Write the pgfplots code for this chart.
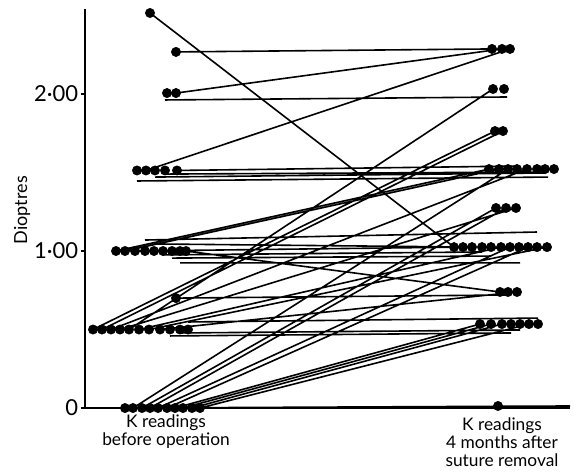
\documentclass[border=0pt]{standalone}
\usepackage{pgfplots}
\pgfplotsset{compat=1.18}
\usepackage{pgfplotstable}
\usepackage{fontspec}
\setmainfont{Lato}

\pgfplotstableread{
x y
150 2.516
176 2.268
167 2.006
176 2.006
137 1.513
146 1.513
155 1.513
165 1.513
177 1.513
116 1.0
125 1.0
135 1.0
145 1.0
154 1.0
163 1.0
172 1.0
180 1.0
186 1.0
176 0.70
93 0.50
102 0.50
111 0.50
120 0.50
129 0.50
139 0.50
149 0.50
160 0.50
170 0.50
180 0.50
188 0.50
125 0
133 0
142 0
150 0
158 0
167 0
175 0
183 0
192 0
200 0
}\leftdots

\pgfplotstableread{
x y
492 2.287
502 2.287
510 2.287
493 2.032
504 2.032
495 1.764
503 1.764
489 1.522
499 1.522
508 1.522
517 1.522
527 1.522
537 1.522
545 1.522
554 1.522
496 1.274
506 1.274
516 1.274
454 1.025
463 1.025
472 1.025
482 1.025
491 1.025
501 1.025
510 1.025
519 1.025
528 1.025
537 1.025
547 1.025
500 0.739
508 0.739
517 0.739
480 0.535
491 0.535
502 0.535
511 0.535
520 0.535
529 0.535
538 0.535
498 0.013
}\rightdots

\pgfplotstableread{
x y
150 2.516
454 1.025
nan nan
176 2.268
492 2.287
nan nan
176 2.006
502 2.287
nan nan
146 1.513
510 2.287
nan nan
165 1.962
507 1.981
nan nan
129 0.50
493 2.032
nan nan
93 0.50
495 1.764
nan nan
102 0.50
503 1.764
nan nan
137 1.446
548 1.471
nan nan
155 1.471
545 1.497
nan nan
165 1.490
537 1.503
nan nan
177 1.513
517 1.541
nan nan
116 1.0
489 1.522
nan nan
125 1.0
499 1.522
nan nan
133 0
508 1.522
nan nan
111 0.50
527 1.522
nan nan
142 0
496 1.274
nan nan
150 0
506 1.274
nan nan
120 0.50
516 1.274
nan nan
135 1.0
463 1.025
nan nan
145 1.070
537 1.121
nan nan
154 1.045
472 1.025
nan nan
163 0.975
482 0.994
nan nan
172 0.955
491 0.968
nan nan
180 0.924
520 0.924
nan nan
158 0
510 1.025
nan nan
167 0
528 1.025
nan nan
139 0.50
501 1.025
nan nan
149 0.50
547 1.025
nan nan
186 1.0
500 0.739
nan nan
176 0.70
508 0.72
nan nan
160 0.50
517 0.739
nan nan
170 0.459
511 0.478
nan nan
180 0.478
520 0.497
nan nan
188 0.548
538 0.573
nan nan
175 0
480 0.535
nan nan
183 0
491 0.535
nan nan
192 0
502 0.535
nan nan
200 0
529 0.535
nan nan
125 0
570 0.013
}\pairlines

\begin{document}
\begin{tikzpicture}
\begin{axis}[
  scale only axis,
  width=363.75pt, height=299.1pt,
  xmin=85, xmax=570, ymin=0, ymax=2.54,
  axis x line=bottom, axis y line=left,
  axis line style={-, line width=1.3pt, black},
  xtick=\empty,
  ytick={0,1,2}, yticklabels={0,1·00,2·00},
  tick align=outside, major tick length=3pt,
  tick style={line width=1.3pt, black},
  yticklabel style={font=\fontsize{16.5}{18}\selectfont, inner sep=2pt},
  clip=false,
]
\addplot[black, line width=1.2pt, unbounded coords=jump, mark=none] table {\pairlines};
\addplot[only marks, mark=*, mark size=3.5pt, black] table {\leftdots};
\addplot[only marks, mark=*, mark size=3.5pt, black] table {\rightdots};
\node[rotate=90, font=\fontsize{13.5}{15}\selectfont] at (axis cs:22,1.26) {Dioptres};
\node[align=center, font=\fontsize{13}{13.5}\selectfont] at (axis cs:166,-0.15) {K readings\\before operation};
\node[align=center, font=\fontsize{13}{13.5}\selectfont] at (axis cs:502,-0.215) {K readings\\4 months after\\suture removal};
\coordinate (bbsw) at (axis cs:0,-0.4013);
\coordinate (bbne) at (axis cs:573,2.5987);
\end{axis}
\pgfresetboundingbox
\path (bbsw) rectangle (bbne);
\end{tikzpicture}
\end{document}
